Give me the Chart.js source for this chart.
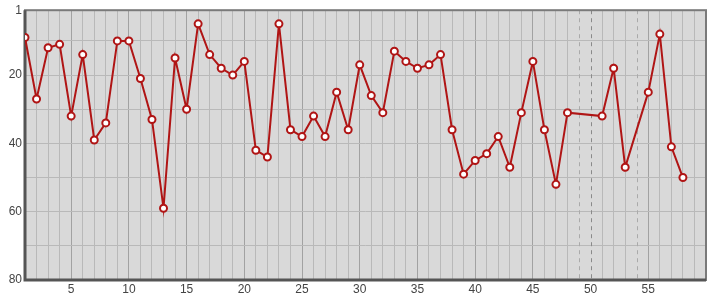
<!DOCTYPE html>
<html>
<head>
<meta charset="utf-8">
<script src="https://cdn.jsdelivr.net/npm/chart.js@4/dist/chart.umd.min.js"></script>
<style>
  html, body { margin: 0; padding: 0; background: #fff; }
  #wrap { width: 715px; height: 300px; }
</style>
</head>
<body>
<div id="wrap"><canvas id="rank-chart"></canvas></div>
<script>
// week numbers and chart position (null = not charted that week)
const weeks = [];
for (let i = 1; i <= 58; i++) weeks.push(i);
const positions = [
    9, 27, 12, 11, 32, 14, 39, 34, 10, 10,
    21, 33, 59, 15, 30, 5, 14, 18, 20, 16,
    42, 44, 5, 36, 38, 32, 38, 25, 36, 17,
    26, 31, 13, 16, 18, 17, 14, 36, 49, 45,
    43, 38, 47, 31, 16, 36, 52, 31, null, null,
    32, 18, 47, null, 25, 8, 41, 50
];
const xLabels = [5, 10, 15, 20, 25, 30, 35, 40, 45, 50, 55];
const yTicks = [1, 10, 20, 30, 40, 50, 60, 70, 80];
const yLabels = [1, 20, 40, 60, 80];

const points = weeks.map((w, i) => ({ x: w, y: positions[i] }));
const missing = weeks.filter((w, i) => positions[i] === null);

const frame = {
    id: 'frame',
    beforeDraw(chart) {
        const { ctx, chartArea: a } = chart;
        ctx.save();
        ctx.fillStyle = '#d9d9d9';
        ctx.fillRect(a.left, a.top, a.right - a.left, a.bottom - a.top);
        ctx.restore();
    },
    beforeDatasetsDraw(chart) {
        const { ctx, chartArea: a, scales } = chart;
        ctx.save();
        ctx.lineWidth = 1;
        ctx.setLineDash([4, 4]);
        missing.forEach(w => {
            ctx.strokeStyle = w % 5 === 0 ? '#8a8a8a' : '#aaaaaa';
            const x = Math.round(scales.x.getPixelForValue(w)) + 0.5;
            ctx.beginPath();
            ctx.moveTo(x, a.top);
            ctx.lineTo(x, a.bottom);
            ctx.stroke();
        });
        ctx.setLineDash([]);
        ctx.strokeStyle = '#7a7a7a';
        ctx.lineWidth = 2;
        ctx.strokeRect(a.left, a.top, a.right - a.left, a.bottom - a.top);
        ctx.strokeStyle = '#555';
        ctx.lineWidth = 3;
        ctx.beginPath();
        ctx.moveTo(a.left, a.top);
        ctx.lineTo(a.left, a.bottom);
        ctx.lineTo(a.right, a.bottom);
        ctx.stroke();
        ctx.restore();
    }
};

new Chart(document.getElementById('rank-chart'), {
    type: 'line',
    data: {
        datasets: [{
            data: points,
            borderColor: '#b01515',
            borderWidth: 2,
            pointRadius: 3.5,
            pointBorderWidth: 2,
            pointBackgroundColor: '#ffffff',
            pointBorderColor: '#b01515',
            tension: 0,
            spanGaps: true
        }]
    },
    plugins: [frame],
    options: {
        responsive: true,
        maintainAspectRatio: false,
        animation: false,
        layout: { padding: { top: 10, right: 9, left: 0, bottom: 0 } },
        plugins: { legend: { display: false }, tooltip: { enabled: false } },
        scales: {
            x: {
                type: 'linear',
                min: 1,
                max: 60,
                afterBuildTicks: scale => {
                    scale.ticks = [];
                    for (let v = 1; v <= 60; v++) scale.ticks.push({ value: v });
                },
                afterFit: scale => { scale.height = 20; },
                ticks: {
                    autoSkip: false,
                    maxRotation: 0,
                    padding: 2,
                    color: '#444',
                    font: { family: 'Liberation Sans', size: 12 },
                    callback: v => xLabels.includes(v) ? v : ''
                },
                grid: {
                    drawTicks: false,
                    color: ctx => {
                        const v = ctx.tick && ctx.tick.value;
                        if (missing.includes(v)) return 'rgba(0,0,0,0)';
                        return v % 5 === 0 ? '#a2a2a2' : '#b9b9b9';
                    }
                },
                border: { display: false }
            },
            y: {
                reverse: true,
                min: 1,
                max: 80,
                afterBuildTicks: scale => {
                    scale.ticks = yTicks.map(v => ({ value: v }));
                },
                afterFit: scale => { scale.width = 25; },
                ticks: {
                    autoSkip: false,
                    padding: 3,
                    color: '#444',
                    font: { family: 'Liberation Sans', size: 12 },
                    callback: v => yLabels.includes(v) ? v : ''
                },
                grid: { drawTicks: false, color: '#b9b9b9' },
                border: { display: false }
            }
        }
    }
});
</script>
</body>
</html>
